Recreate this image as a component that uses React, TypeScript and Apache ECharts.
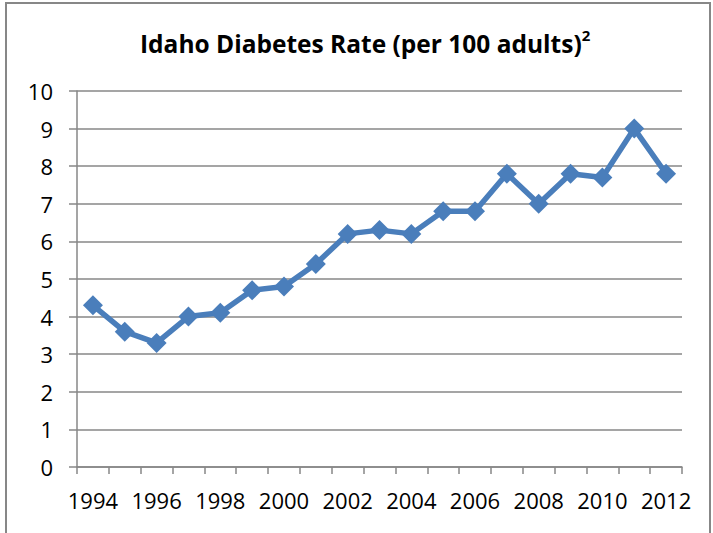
import React, { useEffect, useRef } from "react";
import * as echarts from "echarts";

const years = ["1994","1995","1996","1997","1998","1999","2000","2001","2002","2003","2004","2005","2006","2007","2008","2009","2010","2011","2012"];
const rates = [4.3, 3.6, 3.3, 4.0, 4.1, 4.7, 4.8, 5.4, 6.2, 6.3, 6.2, 6.8, 6.8, 7.8, 7.0, 7.8, 7.7, 9.0, 7.8];
const titleText = "Idaho Diabetes Rate (per 100 adults)";
const titleSup = "2";

export default function App() {
  const ref = useRef<HTMLDivElement>(null);
  useEffect(() => {
    if (!ref.current) return;
    const chart = echarts.init(ref.current, null, { renderer: "svg" });
    const gray = "#878787";
    const font = "'Open Sans', 'Noto Sans', sans-serif";
    chart.setOption({
      animation: false,
      backgroundColor: "#ffffff",
      title: {
        text: `{t|${titleText}}{s|${titleSup}}`,
        left: 135,
        top: 22,
        textStyle: {
          rich: {
            t: { fontFamily: font, fontWeight: "bold", fontSize: 24.5, color: "#000", lineHeight: 32 },
            s: { fontFamily: font, fontSize: 15, color: "#000", verticalAlign: "top", lineHeight: 32, padding: [0, 0, 8, 0] },
          },
        },
      },
      graphic: [
        {
          type: "rect",
          shape: { x: 6, y: 3, width: 704, height: 560 },
          style: { fill: "none", stroke: gray, lineWidth: 2 },
          silent: true,
        },
      ],
      grid: { left: 77, right: 31, top: 91, bottom: 66, containLabel: false },
      xAxis: {
        type: "category",
        data: years,
        boundaryGap: true,
        axisLine: { show: true, lineStyle: { color: gray, width: 1.5 } },
        axisTick: { show: true, length: 7, interval: 0, lineStyle: { color: gray, width: 1.5 } },
        axisLabel: { interval: 1, color: "#000", fontSize: 22, fontFamily: font, margin: 22 },
        splitLine: { show: false },
      },
      yAxis: {
        type: "value",
        min: 0,
        max: 10,
        interval: 1,
        axisLine: { show: true, lineStyle: { color: gray, width: 1.5 } },
        axisTick: { show: true, length: 8, lineStyle: { color: gray, width: 1.5 } },
        axisLabel: { color: "#000", fontSize: 22, fontFamily: font, margin: 24 },
        splitLine: { show: true, lineStyle: { color: gray, width: 1.5 } },
      },
      series: [
        {
          type: "line",
          data: rates,
          symbol: "diamond",
          symbolSize: 20,
          lineStyle: { color: "#4a7ebb", width: 5.5 },
          itemStyle: { color: "#4a7ebb" },
        },
      ],
    });
    return () => chart.dispose();
  }, []);
  return (
    <div
      ref={ref}
      style={{ position: "fixed", left: 0, top: 0, width: 713, height: 533 }}
    />
  );
}
